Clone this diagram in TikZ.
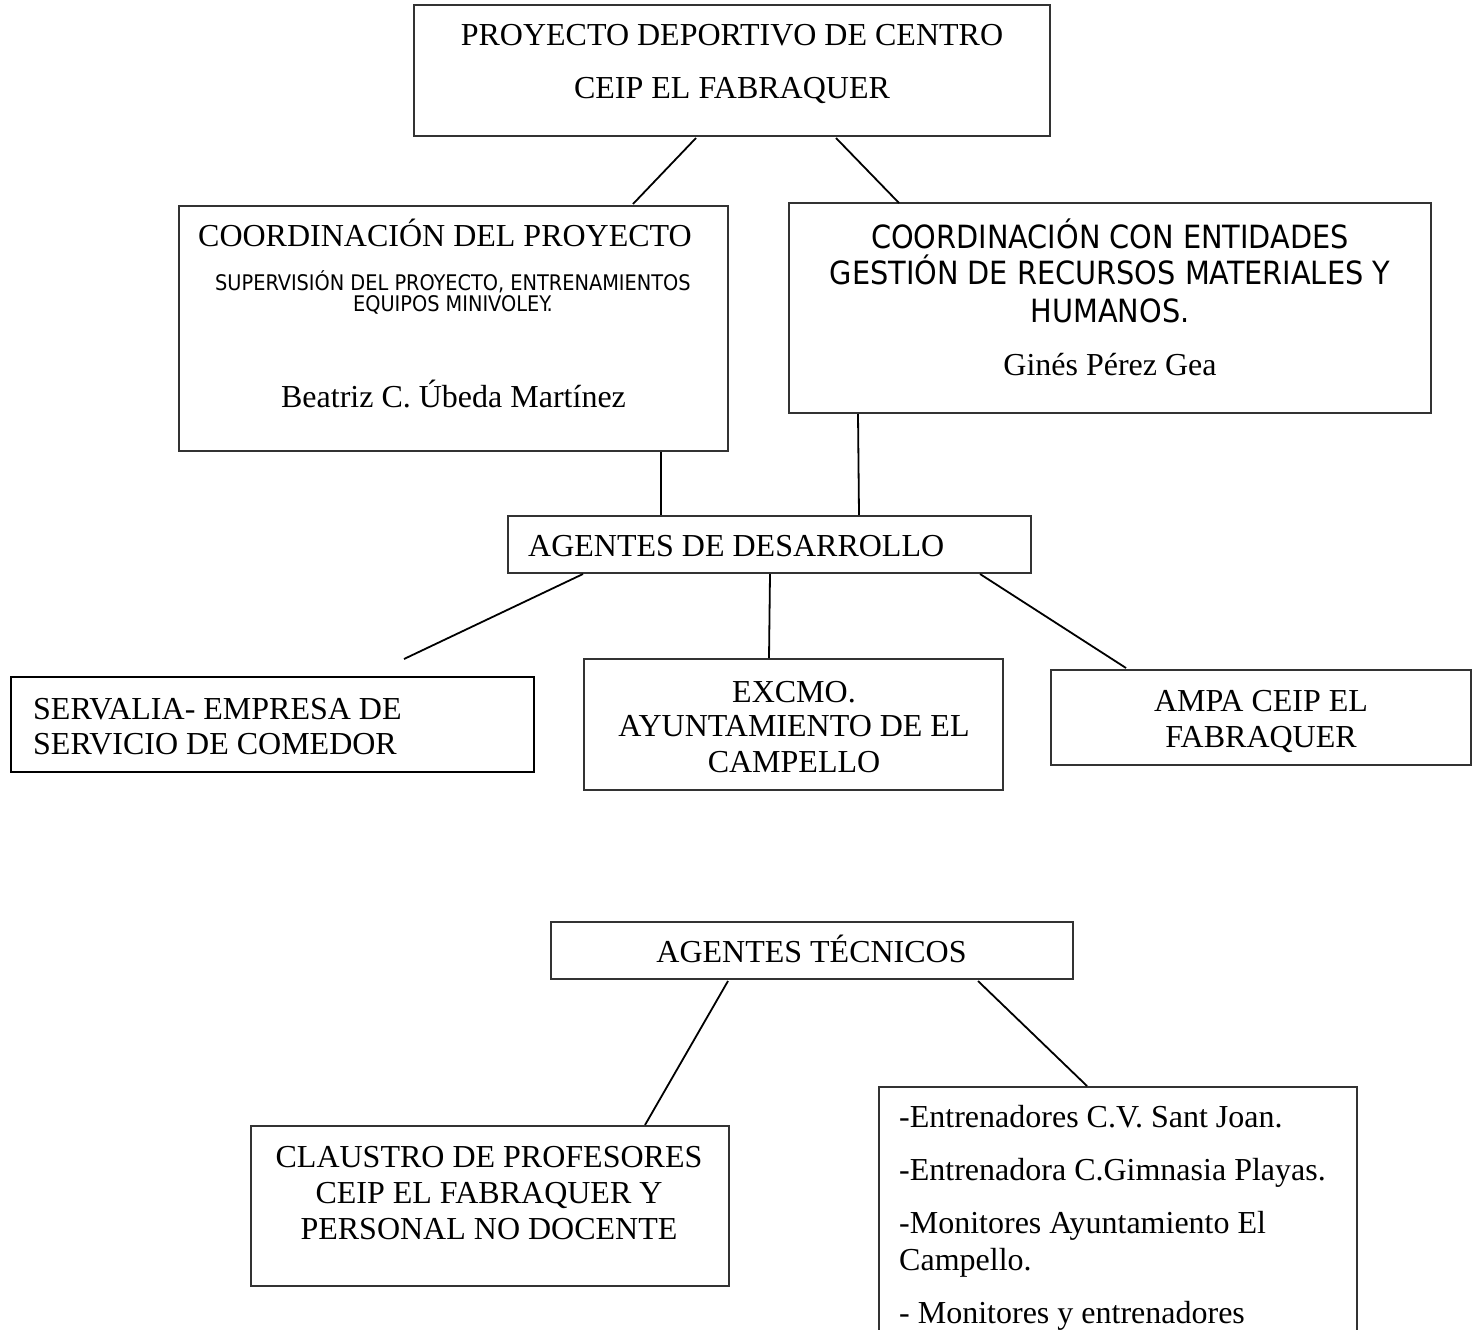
\documentclass[tikz,border=0pt]{standalone}
\usepackage{fontspec}
\setmainfont{Liberation Serif}
\newfontfamily\sansfam{DejaVu Sans Condensed}
\begin{document}
\begin{tikzpicture}[x=1pt,y=-1pt,
  box/.style={draw=black!80,line width=1.2pt,inner sep=0pt,outer sep=0pt,fill=white},
  thickbox/.style={box,draw=black,line width=2.6pt},
  conn/.style={line width=1.8pt,draw=black},
  ser/.style={inner sep=0pt,anchor=base,font=\fontsize{32}{36}\selectfont},
  serl/.style={ser,anchor=base west},
  sanss/.style={inner sep=0pt,anchor=base,font=\sansfam\fontsize{21.5}{24}\selectfont},
  sansl/.style={inner sep=0pt,anchor=base,font=\sansfam\fontsize{32}{36}\selectfont}]
\clip (0,0) rectangle (1480,1330);
\fill[white] (0,0) rectangle (1480,1330);

% boxes
\node[box,minimum width=636pt,minimum height=131pt] (top) at (732,70.5) {};
\node[box,minimum width=549pt,minimum height=245pt] (coordL) at (453.5,328.5) {};
\node[box,minimum width=642pt,minimum height=210pt] (coordR) at (1110,308) {};
\node[box,minimum width=523pt,minimum height=57pt] (agDes) at (769.5,544.5) {};
\node[thickbox,minimum width=523pt,minimum height=95pt] (serv) at (272.5,724.5) {};
\node[box,minimum width=419pt,minimum height=131pt] (excmo) at (793.5,724.5) {};
\node[box,minimum width=420pt,minimum height=95pt] (ampa) at (1261,717.5) {};
\node[box,minimum width=522pt,minimum height=57pt] (agTec) at (812,950.5) {};
\node[box,minimum width=478pt,minimum height=160pt] (claus) at (490,1206) {};
\node[box,minimum width=478pt,minimum height=258pt] (entr) at (1118,1216) {};

% texts
\node[ser] (t1) at (732,46) {PROYECTO DEPORTIVO DE CENTRO};
\node[ser] (t2) at (732,99) {CEIP EL FABRAQUER};
\node[ser] (t3) at (445,246) {COORDINACIÓN DEL PROYECTO};
\node[sanss] (t3a) at (453,290) {SUPERVISIÓN DEL PROYECTO, ENTRENAMIENTOS};
\node[sanss] (t3b) at (453,311) {EQUIPOS MINIVOLEY.};
\node[ser] (t4) at (453.5,407) {Beatriz C. Úbeda Martínez};
\node[sansl] (t5a) at (1110,248) {COORDINACIÓN CON ENTIDADES};
\node[sansl] (t5b) at (1110,284) {GESTIÓN DE RECURSOS MATERIALES Y};
\node[sansl] (t5c) at (1110,322) {HUMANOS.};
\node[ser] (t5) at (1110,375) {Ginés Pérez Gea};
\node[serl] (t6) at (528,556) {AGENTES DE DESARROLLO};
\node[serl] (t7) at (33,719) {SERVALIA- EMPRESA DE};
\node[serl] (t8) at (33,754) {SERVICIO DE COMEDOR};
\node[ser] (t9) at (794,702) {EXCMO.};
\node[ser] (t10) at (794,736) {AYUNTAMIENTO DE EL};
\node[ser] (t11) at (794,772) {CAMPELLO};
\node[ser] (t12) at (1261,711) {AMPA CEIP EL};
\node[ser] (t13) at (1261,747) {FABRAQUER};
\node[ser] (t14) at (811.5,962) {AGENTES TÉCNICOS};
\node[ser] (t15) at (489,1167) {CLAUSTRO DE PROFESORES};
\node[ser] (t16) at (489,1203) {CEIP EL FABRAQUER Y};
\node[ser] (t17) at (489,1239) {PERSONAL NO DOCENTE};
\node[serl] (t18) at (899,1127) {-Entrenadores C.V. Sant Joan.};
\node[serl] (t19) at (899,1180) {-Entrenadora C.Gimnasia Playas.};
\node[serl] (t20) at (899,1233) {-Monitores Ayuntamiento El};
\node[serl] (t21) at (899,1270) {Campello.};
\node[serl] (t22) at (899,1323) {- Monitores y entrenadores};

% connectors
\draw[conn] ([xshift=-36pt,yshift=-2pt]top.south) -- ([xshift=179.5pt,yshift=2pt]coordL.north);
\draw[conn] ([xshift=104pt,yshift=-2pt]top.south) -- ([xshift=-211pt]coordR.north);
\draw[conn] ([xshift=207.5pt,yshift=-1pt]coordL.south) -- ([xshift=-108.5pt,yshift=1pt]agDes.north);
\draw[conn] ([xshift=-252pt,yshift=-1pt]coordR.south) -- ([xshift=89.5pt,yshift=1pt]agDes.north);
\draw[conn] ([xshift=-186.5pt,yshift=-1pt]agDes.south) -- ([xshift=131.5pt,yshift=18pt]serv.north);
\draw[conn] ([xshift=0.5pt,yshift=-1pt]agDes.south) -- ([xshift=-24.5pt,yshift=1pt]excmo.north);
\draw[conn] ([xshift=210.5pt,yshift=-1pt]agDes.south) -- ([xshift=-135pt,yshift=2pt]ampa.north);
\draw[conn] ([xshift=-84pt,yshift=-2pt]agTec.south) -- ([xshift=155pt,yshift=1pt]claus.north);
\draw[conn] ([xshift=166pt,yshift=-2pt]agTec.south) -- ([xshift=-31pt,yshift=1pt]entr.north);
\end{tikzpicture}
\end{document}
